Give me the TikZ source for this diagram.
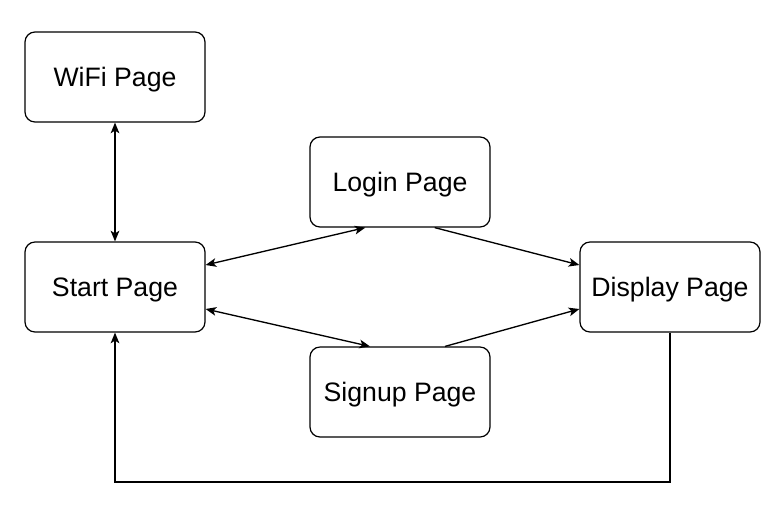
\documentclass[tikz,border=0pt]{standalone}
\usepackage{fontspec}
\setmainfont{Liberation Sans}
\usetikzlibrary{arrows.meta}

\begin{document}
\begin{tikzpicture}[x=0.75pt, y=-0.75pt,
        page/.style={draw, rounded corners=7.5pt, line width=0.9pt, minimum width=135pt, minimum height=67.5pt, text height=14.3pt, text depth=0pt, font=\fontsize{20}{24}\selectfont},
        link/.style={line width=1pt, -{Stealth[length=8pt, width=6.5pt, inset=2pt]}},
        both/.style={link, {Stealth[length=8pt, width=6.5pt, inset=2pt]}-{Stealth[length=8pt, width=6.5pt, inset=2pt]}}]
        \useasboundingbox (0,0) rectangle (781,526);
        \node[page] (wifi) at (115,77) {WiFi Page};
        \node[page] (login) at (400,182) {Login Page};
        \node[page] (start) at (115,287) {Start Page};
        \node[page] (display) at (670,287) {Display Page};
        \node[page] (signup) at (400,392) {Signup Page};
        \coordinate (back) at (115,482);
        \draw[both] (wifi.south) -- (start.north);
        \draw[both] ([yshift=16.5pt]start.east) -- ([xshift=-26pt]login.south);
        \draw[both] ([yshift=-16.5pt]start.east) -- ([xshift=-22.5pt]signup.north);
        \draw[link] ([xshift=26pt]login.south) -- ([yshift=16.5pt]display.west);
        \draw[link] ([xshift=33.75pt]signup.north) -- ([yshift=-16.5pt]display.west);
        \draw[link] (display.south) |- (back) -- (start.south);
    \end{tikzpicture}
\end{document}
